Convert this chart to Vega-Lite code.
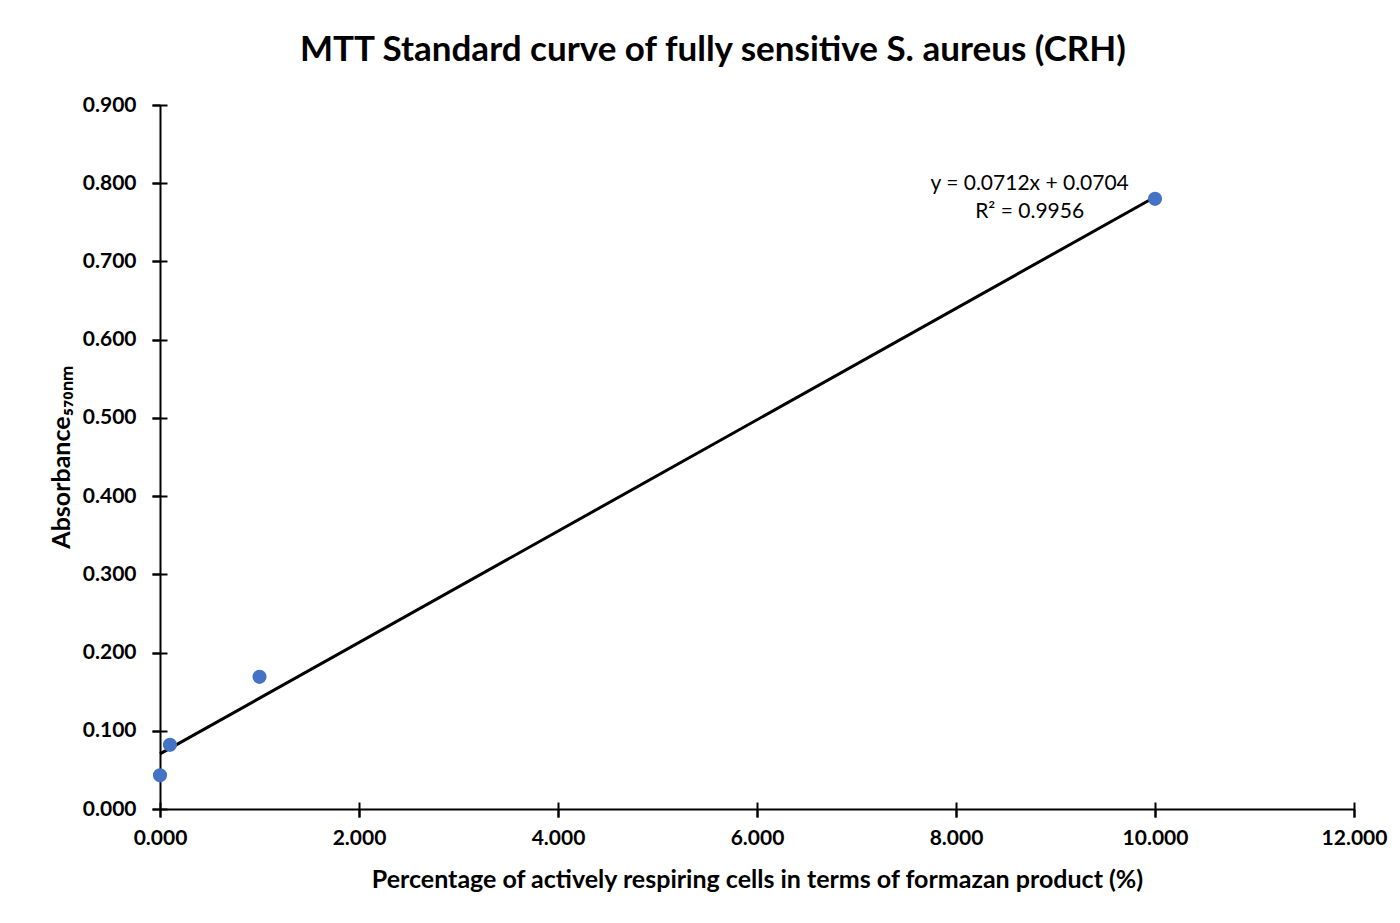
{
  "$schema": "https://vega.github.io/schema/vega-lite/v6.json",
  "width": 1194,
  "height": 704,
  "autosize": {"type": "none"},
  "padding": {"left": 160, "top": 105, "right": 46, "bottom": 114},
  "background": "white",
  "config": {"view": {"stroke": null}, "font": "Lato"},
  "title": {
    "text": "MTT Standard curve of fully sensitive S. aureus (CRH)",
    "font": "Lato",
    "fontSize": 35,
    "fontWeight": "bold",
    "color": "black",
    "anchor": "middle",
    "dx": -44,
    "offset": 26
  },
  "datasets": {
    "points": [
      {"pct": 0, "absorbance": 0.043},
      {"pct": 0.1, "absorbance": 0.082},
      {"pct": 1, "absorbance": 0.169},
      {"pct": 10, "absorbance": 0.780}
    ],
    "trend": [
      {"pct": 0, "absorbance": 0.0704},
      {"pct": 10, "absorbance": 0.7824}
    ],
    "labels": [
      {"pct": 8.74, "absorbance": 0.799, "label": "y = 0.0712x + 0.0704"},
      {"pct": 8.74, "absorbance": 0.763, "label": "R² = 0.9956"}
    ]
  },
  "layer": [
    {
      "data": {"name": "trend"},
      "mark": {"type": "line", "color": "black", "strokeWidth": 3},
      "encoding": {
        "x": {
          "field": "pct", "type": "quantitative",
          "scale": {"domain": [0, 12], "nice": false, "zero": true},
          "axis": {"orient": "bottom", "offset": -7, "values": [0, 2, 4, 6, 8, 10, 12], "labels": false, "domain": false, "grid": false, "title": null, "tickSize": 15, "tickWidth": 2, "tickColor": "black"}
        },
        "y": {
          "field": "absorbance", "type": "quantitative",
          "scale": {"domain": [0, 0.9], "nice": false},
          "axis": {"orient": "left", "offset": -7, "values": [0, 0.1, 0.2, 0.3, 0.4, 0.5, 0.6, 0.7, 0.8, 0.9], "labels": false, "domain": false, "grid": false, "title": null, "tickSize": 15, "tickWidth": 2, "tickColor": "black"}
        }
      }
    },
    {
      "data": {"name": "points"},
      "mark": {"type": "circle", "color": "#4472C4", "size": 200, "opacity": 1},
      "encoding": {
        "x": {
          "field": "pct", "type": "quantitative",
          "axis": {
            "orient": "bottom",
            "values": [0, 2, 4, 6, 8, 10, 12],
            "format": ".3f",
            "grid": false,
            "labelFlush": false,
            "domainColor": "black", "domainWidth": 2,
            "tickColor": "black", "tickWidth": 2, "tickSize": 8,
            "labelFont": "Lato", "labelFontSize": 21, "labelFontWeight": "bold", "labelColor": "black",
            "labelPadding": 10,
            "title": "Percentage of actively respiring cells in terms of formazan product (%)",
            "titleFont": "Lato", "titleFontSize": 25, "titleFontWeight": "bold", "titleColor": "black",
            "titlePadding": 19
          }
        },
        "y": {
          "field": "absorbance", "type": "quantitative",
          "axis": {
            "orient": "left",
            "values": [0, 0.1, 0.2, 0.3, 0.4, 0.5, 0.6, 0.7, 0.8, 0.9],
            "format": ".3f",
            "grid": false,
            "labelFlush": false,
            "domainColor": "black", "domainWidth": 2,
            "tickColor": "black", "tickWidth": 2, "tickSize": 8,
            "labelFont": "Lato", "labelFontSize": 21, "labelFontWeight": "bold", "labelColor": "black",
            "labelPadding": 16,
            "title": "Absorbance₅₇₀ₙₘ",
            "titleFont": "Lato", "titleFontSize": 25, "titleFontWeight": "bold", "titleColor": "black",
            "titlePadding": 8
          }
        }
      }
    },
    {
      "data": {"name": "labels"},
      "mark": {"type": "text", "font": "Lato", "fontSize": 21, "color": "black", "align": "center", "baseline": "middle"},
      "encoding": {
        "x": {"field": "pct", "type": "quantitative", "axis": null},
        "y": {"field": "absorbance", "type": "quantitative", "axis": null},
        "text": {"field": "label"}
      }
    }
  ],
  "resolve": {"axis": {"x": "independent", "y": "independent"}}
}
